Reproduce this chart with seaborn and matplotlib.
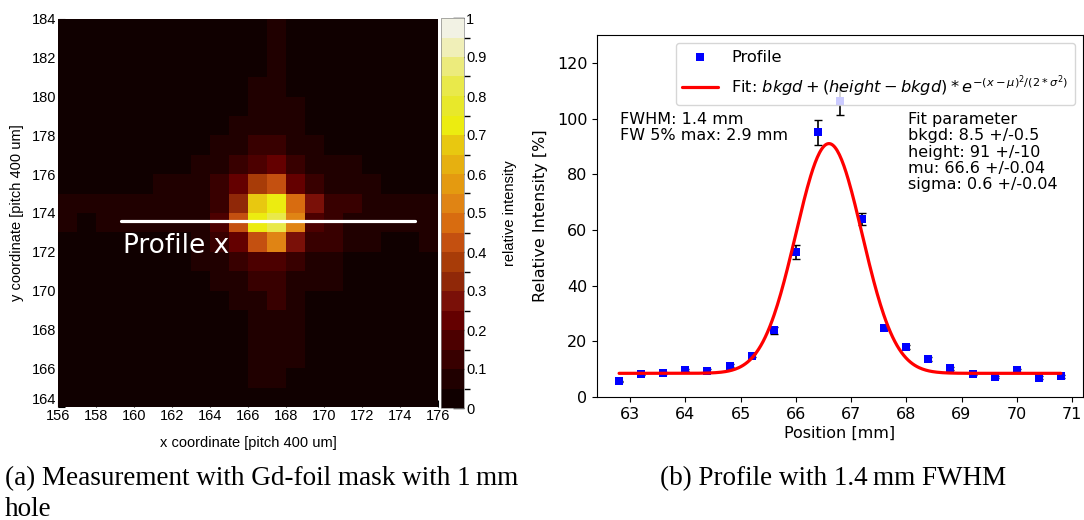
import numpy as np
import pandas as pd
import seaborn as sns
import matplotlib
matplotlib.use("Agg")
import matplotlib.pyplot as plt
from matplotlib.colors import ListedColormap, BoundaryNorm

# --- (a) mask measurement, rows run from y=184 (top) down to y=164 ---
x_ticks = [156, 158, 160, 162, 164, 166, 168, 170, 172, 174, 176]
y_ticks = [184, 182, 180, 178, 176, 174, 172, 170, 168, 166, 164]
cb_ticks = [0, 0.1, 0.2, 0.3, 0.4, 0.5, 0.6, 0.7, 0.8, 0.9, 1]
cb_labels = ["0", "0.1", "0.2", "0.3", "0.4", "0.5", "0.6", "0.7", "0.8", "0.9", "1"]

intensity = [
    [.02, .02, .02, .02, .02, .02, .02, .02, .02, .02, .02, .07, .02, .02, .02, .02, .02, .02, .02, .02],
    [.02, .02, .02, .02, .02, .02, .02, .02, .02, .02, .02, .07, .02, .02, .02, .02, .02, .02, .02, .02],
    [.02, .02, .02, .02, .02, .02, .02, .02, .02, .02, .02, .07, .02, .02, .02, .02, .02, .02, .02, .02],
    [.02, .02, .02, .02, .02, .02, .02, .02, .02, .02, .07, .07, .02, .02, .02, .02, .02, .02, .02, .02],
    [.02, .02, .02, .02, .02, .02, .02, .02, .02, .02, .07, .07, .07, .02, .02, .02, .02, .02, .02, .02],
    [.02, .02, .02, .02, .02, .02, .02, .02, .02, .07, .07, .07, .07, .02, .02, .02, .02, .02, .02, .02],
    [.02, .02, .02, .02, .02, .02, .02, .02, .07, .07, .12, .12, .07, .07, .02, .02, .02, .02, .02, .02],
    [.02, .02, .02, .02, .02, .02, .02, .07, .07, .12, .17, .22, .12, .07, .07, .07, .02, .02, .02, .02],
    [.02, .02, .02, .02, .02, .07, .07, .07, .12, .22, .37, .42, .22, .12, .07, .07, .07, .02, .02, .02],
    [.07, .07, .07, .07, .07, .07, .07, .07, .12, .32, .67, .72, .47, .27, .12, .12, .07, .07, .07, .07],
    [.07, .02, .07, .07, .07, .07, .07, .07, .17, .42, .73, .83, .52, .17, .12, .07, .07, .07, .07, .07],
    [.02, .02, .02, .02, .02, .02, .02, .07, .12, .22, .42, .52, .27, .12, .12, .07, .07, .02, .02, .07],
    [.02, .02, .02, .02, .02, .02, .02, .07, .07, .12, .17, .17, .12, .07, .07, .02, .02, .02, .02, .02],
    [.02, .02, .02, .02, .02, .02, .02, .02, .07, .07, .12, .12, .07, .07, .07, .02, .02, .02, .02, .02],
    [.02, .02, .02, .02, .02, .02, .02, .02, .02, .07, .07, .12, .07, .02, .02, .02, .02, .02, .02, .02],
    [.02, .02, .02, .02, .02, .02, .02, .02, .02, .02, .07, .07, .07, .02, .02, .02, .02, .02, .02, .02],
    [.02, .02, .02, .02, .02, .02, .02, .02, .02, .02, .07, .07, .07, .02, .02, .02, .02, .02, .02, .02],
    [.02, .02, .02, .02, .02, .02, .02, .02, .02, .02, .07, .07, .07, .02, .02, .02, .02, .02, .02, .02],
    [.02, .02, .02, .02, .02, .02, .02, .02, .02, .02, .07, .07, .02, .02, .02, .02, .02, .02, .02, .02],
    [.02, .02, .02, .02, .02, .02, .02, .02, .02, .02, .02, .02, .02, .02, .02, .02, .02, .02, .02, .02],
]

# one colour per 0.05 step, from 0 up to 1
level_colors = [
    "#100000", "#200000", "#380000", "#4c0000", "#640000",
    "#7a1008", "#902808", "#a83c08", "#c45010", "#d86c10",
    "#e08414", "#e49a10", "#e6b010", "#e8c810", "#ecec10",
    "#e8e82a", "#e9e94a", "#eceb7c", "#f0efb8", "#f2f2e4",
]

# profile line drawn over the map
profile_y = 173.6
profile_x = [159.3, 174.8]

# --- (b) profile along x ---
position = [62.8, 63.2, 63.6, 64.0, 64.4, 64.8, 65.2, 65.6, 66.0, 66.4, 66.8,
            67.2, 67.6, 68.0, 68.4, 68.8, 69.2, 69.6, 70.0, 70.4, 70.8]
rel_intensity = [5.6, 8.2, 8.6, 9.7, 9.4, 11.2, 14.9, 23.9, 52.1, 95.1, 106.2,
                 63.9, 24.9, 17.9, 13.6, 10.3, 8.3, 7.1, 9.6, 7.0, 7.4]
rel_error = [0.3, 0.4, 0.4, 0.5, 0.5, 0.6, 0.7, 1.2, 2.5, 4.5, 5.0,
             2.2, 1.0, 0.8, 0.6, 0.5, 0.4, 0.4, 0.5, 0.4, 0.4]
fit_bkgd, fit_height, fit_mu, fit_sigma = 8.5, 91.0, 66.6, 0.6

sns.set_theme(style="ticks", rc={
    "axes.edgecolor": "black", "axes.labelcolor": "black", "text.color": "black",
    "xtick.color": "black", "ytick.color": "black", "axes.linewidth": 0.8,
})
plt.rcParams["font.family"] = ["DejaVu Sans"]

W, H = 1084, 520
fig = plt.figure(figsize=(W / 100, H / 100), dpi=100)
ax1 = fig.add_axes([58 / W, 113 / H, 380 / W, 388 / H])
cax = fig.add_axes([441 / W, 112 / H, 23 / W, 390 / H])
ax2 = fig.add_axes([597 / W, 123 / H, 486 / W, 362 / H])

# heat map
cmap = ListedColormap(level_colors)
norm = BoundaryNorm(np.linspace(0, 1, 21), cmap.N)
sns.heatmap(pd.DataFrame(intensity), ax=ax1, cmap=cmap, norm=norm, cbar_ax=cax,
            xticklabels=False, yticklabels=False)

hm_font = dict(family=["Liberation Sans", "DejaVu Sans"], size=10.5)
ax1.set_xticks([v - x_ticks[0] for v in x_ticks])
ax1.set_xticklabels([str(v) for v in x_ticks], fontdict=hm_font)
ax1.set_yticks([y_ticks[0] - v for v in y_ticks])
ax1.set_yticklabels([str(v) for v in y_ticks], fontdict=hm_font, rotation=0)
# the bottom y label sits raised above the first x label
ax1.get_yticklabels()[-1].set_va("bottom")
ax1.tick_params(direction="in", length=5, width=0.8, color="black", pad=1.5)
ax1.set_xlabel("x coordinate [pitch 400 um]", fontdict=hm_font, labelpad=9)
ax1.set_ylabel("y coordinate [pitch 400 um]", fontdict=hm_font, labelpad=5)

ax1.plot([v - x_ticks[0] for v in profile_x], [y_ticks[0] - profile_y] * 2,
         color="white", lw=2.3)
ax1.text(profile_x[0] - x_ticks[0] + 0.1, y_ticks[0] - profile_y + 1.3, "Profile x",
         color="white", fontsize=19, va="center", ha="left")

cbar = ax1.collections[0].colorbar
cbar.set_ticks(cb_ticks)
cbar.set_ticklabels(cb_labels, fontdict=hm_font)
cbar.ax.tick_params(direction="in", length=8, width=1, color="black", pad=1.5)
cbar.outline.set_linewidth(0.5)
cbar.outline.set_edgecolor("#888888")
cbar.set_label("relative intensity", fontdict=hm_font, labelpad=12)

# profile plot
ax2.errorbar(position, rel_intensity, yerr=rel_error, fmt="none", ecolor="black",
             elinewidth=1.2, capsize=3, capthick=1.0, zorder=2)
sns.scatterplot(x=position, y=rel_intensity, ax=ax2, marker="s", color="blue",
                s=34, linewidth=0, label="Profile", zorder=3)
x_fit = np.linspace(position[0], position[-1], 400)
y_fit = fit_bkgd + (fit_height - fit_bkgd) * np.exp(-(x_fit - fit_mu) ** 2 / (2 * fit_sigma ** 2))
sns.lineplot(x=x_fit, y=y_fit, ax=ax2, color="red", lw=2.3, zorder=4,
             label=r"Fit: $bkgd + (height - bkgd) * e^{-(x - \mu)^2/(2*\sigma^2)}$")

ax2.set_xlim(62.4, 71.2)
ax2.set_ylim(0, 130)
ax2.set_xticks(range(63, 72))
ax2.set_yticks(range(0, 121, 20))
ax2.tick_params(direction="out", length=3.5, width=0.8, labelsize=11.5)
ax2.set_xlabel("Position [mm]", fontsize=11.5, labelpad=3)
ax2.set_ylabel("Relative Intensity [%]", fontsize=11.5, labelpad=6)
ax2.legend(loc="upper right", fontsize=11.7, frameon=True, framealpha=0.8,
           borderaxespad=0.5, handlelength=2.2)

ax2.text(0.047, 0.787, "FWHM: 1.4 mm\nFW 5% max: 2.9 mm", transform=ax2.transAxes,
         fontsize=11.5, va="top", ha="left", linespacing=1.1)
ax2.text(0.639, 0.787,
         "Fit parameter\nbkgd: 8.5 +/-0.5\nheight: 91 +/-10\nmu: 66.6 +/-0.04\nsigma: 0.6 +/-0.04",
         transform=ax2.transAxes, fontsize=11.5, va="top", ha="left", linespacing=1.1)

# captions, placed by their baselines
cap_font = dict(family=["Liberation Serif", "DejaVu Serif"], size=19.5)
fig.text(5 / W, 1 - 485 / H, "(a) Measurement with Gd-foil mask with 1\u2009mm",
         va="baseline", ha="left", fontdict=cap_font)
fig.text(5 / W, 1 - 516 / H, "hole", va="baseline", ha="left", fontdict=cap_font)
fig.text(833 / W, 1 - 485 / H, "(b) Profile with 1.4\u2009mm FWHM",
         va="baseline", ha="center", fontdict=cap_font)

fig.savefig("out.png", dpi=100)
